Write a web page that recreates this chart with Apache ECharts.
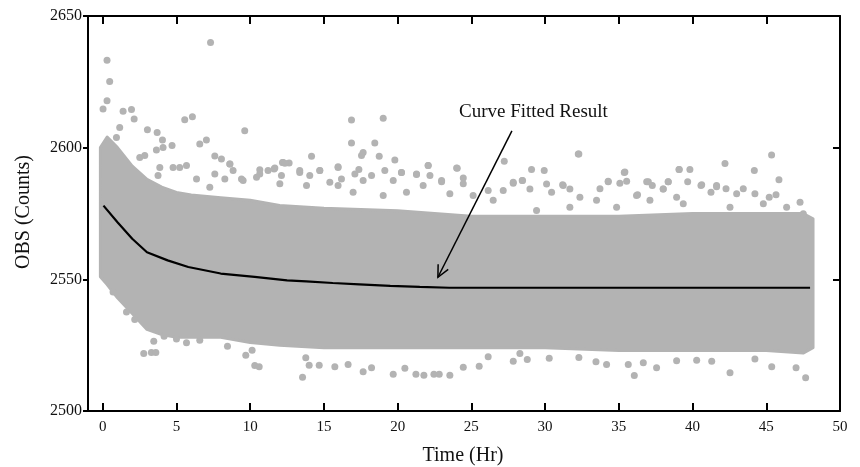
<!DOCTYPE html>
<html>
<head>
<meta charset="utf-8">
<script src="https://cdn.jsdelivr.net/npm/echarts@6/dist/echarts.min.js"></script>
<style>html,body{margin:0;padding:0;background:#fff}#c{width:860px;height:467px}</style>
</head>
<body>
<div id="c"></div>
<script>
// ---- data ----
const xTicks = [0, 5, 10, 15, 20, 25, 30, 35, 40, 45, 50];
const yTicks = [2500, 2550, 2600, 2650];

// dense cloud envelope (solid gray body of the scatter)
const bandX     = [-0.16, 0.3, 1, 2, 3, 4, 5, 6, 8, 10, 12, 15, 20, 25, 30, 35, 40, 45, 47.5, 48.17];
const bandUpper = [2600, 2604, 2600, 2593, 2588, 2585, 2583, 2582, 2581, 2580, 2578, 2577, 2576, 2574, 2574, 2574, 2575, 2575, 2575, 2573];
const bandLower = [2551, 2548, 2543, 2537, 2531, 2529, 2528, 2528, 2528, 2526, 2525, 2524, 2524, 2524, 2524, 2523, 2523, 2523, 2522, 2524];

// individual scattered points outside / on the edge of the dense body
const outX = [0.29, 0.47, 0.29, 7.31, 5.56, 6.08, 9.63, 1.95, 1.38, 2.13, 3.03, 3.69, 4.05, 4.70, 3.64, 4.09, 6.58, 7.03, 7.60, 8.05, 8.62, 8.84, 9.41, 10.65, 11.21, 11.62, 12.19, 12.64, 5.68, 4.77, 2.51, 2.85, 0.93, 1.15, 0.02,
  16.87, 19.02, 16.87, 18.45, 14.16, 17.66, 18.75, 19.81, 17.55, 15.96, 17.37, 22.07, 24.04, 27.23, 29.08, 29.94, 32.25, 14.72, 13.36, 12.23, 20.26, 21.28, 22.98, 24.45, 27.84, 28.45, 31.19,
  32.29, 45.36, 42.2, 35.41, 39.08, 39.82, 44.19, 45.86, 34.28, 37.0, 38.35, 39.67, 40.62, 42.27, 43.44, 41.63, 47.29, 36.27, 45.66, 33.72,
  2.78, 3.30, 3.60, 3.46, 8.46, 9.70, 10.13, 10.31, 10.61, 5.68, 6.58, 1.61, 0.70, 2.17, 4.16, 5.0,
  13.55, 14.0, 14.68, 15.74, 16.64, 17.66, 18.23, 19.7, 20.49, 21.24, 21.78, 22.46, 22.82, 23.54, 24.45, 25.53, 13.77, 26.14, 27.84, 28.79, 30.28, 28.29,
  36.05, 42.54, 47.67, 34.17, 35.64, 37.56, 38.92, 45.37, 47.02, 32.29, 33.45, 36.66, 40.28, 41.3, 44.23,
  3.87, 5.22, 3.75, 6.36, 7.6, 8.62, 8.28, 10.65, 10.43, 11.67, 12.35, 12.12, 13.36, 14.04, 14.72, 15.4, 15.96, 16.19, 17.1, 17.66, 18.23, 19.13, 19.7, 20.26, 21.28, 22.07, 22.19, 21.73, 22.98, 24.0, 24.45, 23.54, 15.96, 16.98, 19.02, 20.6, 25.12, 26.14, 26.48, 13.82, 12.01, 9.52, 7.26,
  27.16, 27.84, 28.47, 28.97, 30.1, 30.44, 31.23, 31.68, 32.36, 33.49, 34.28, 35.07, 35.53, 35.37, 36.89, 37.27, 38.01, 36.2, 37.11, 34.85, 31.68, 29.42,
  39.1, 38.01, 38.35, 40.57, 41.25, 41.63, 42.99, 44.23, 45.2, 38.92, 39.37, 42.54, 44.8, 46.38, 47.51];
const outY = [2633.2, 2625.1, 2617.8, 2639.9, 2610.6, 2611.7, 2606.4, 2614.5, 2613.8, 2610.9, 2606.8, 2605.8, 2602.9, 2600.8, 2599.1, 2600.1, 2601.4, 2602.9, 2596.8, 2595.7, 2593.8, 2591.3, 2588.1, 2590.0, 2591.3, 2591.9, 2594.4, 2594.2, 2593.2, 2592.5, 2596.3, 2597.0, 2603.9, 2607.7, 2614.7,
  2610.5, 2611.2, 2601.8, 2601.8, 2596.7, 2598.2, 2596.7, 2595.3, 2597.0, 2592.8, 2591.7, 2593.2, 2592.2, 2594.8, 2591.7, 2591.3, 2597.6, 2591.3, 2590.6, 2594.4, 2590.6, 2589.8, 2587.1, 2588.5, 2586.5, 2587.5, 2585.9,
  2597.6, 2597.2, 2594.0, 2590.8, 2591.7, 2591.7, 2591.3, 2587.8, 2587.1, 2587.1, 2587.1, 2587.1, 2585.9, 2584.4, 2584.4, 2585.6, 2579.3, 2582.1, 2582.1, 2584.4,
  2521.8, 2522.2, 2522.2, 2526.5, 2524.6, 2521.2, 2523.1, 2517.3, 2516.8, 2525.9, 2526.9, 2537.6, 2545.2, 2534.7, 2528.4, 2527.3,
  2512.8, 2517.4, 2517.4, 2516.8, 2517.7, 2514.9, 2516.4, 2514.0, 2516.2, 2514.0, 2513.6, 2514.0, 2514.0, 2513.6, 2516.6, 2517.0, 2520.2, 2520.6, 2518.9, 2519.6, 2520.0, 2521.8,
  2513.5, 2514.5, 2512.6, 2517.7, 2517.7, 2516.4, 2519.1, 2516.8, 2516.4, 2520.3, 2518.7, 2518.3, 2519.3, 2518.9, 2519.7,
  2592.5, 2592.5, 2589.4, 2588.1, 2590.0, 2593.8, 2588.1, 2591.6, 2588.8, 2592.3, 2594.1, 2589.4, 2591.3, 2589.4, 2591.3, 2586.9, 2592.5, 2588.1, 2590.0, 2587.5, 2589.4, 2591.3, 2587.5, 2590.6, 2590.0, 2593.2, 2589.4, 2585.6, 2587.5, 2592.3, 2586.3, 2582.5, 2585.6, 2583.1, 2581.8, 2583.1, 2581.8, 2583.7, 2580.0, 2585.6, 2586.3, 2587.5, 2585.0,
  2583.7, 2586.9, 2587.5, 2584.3, 2586.2, 2583.1, 2585.6, 2584.3, 2581.2, 2580.0, 2587.2, 2586.5, 2587.2, 2590.6, 2587.1, 2585.6, 2584.3, 2581.8, 2580.0, 2577.4, 2577.4, 2576.1,
  2591.7, 2584.3, 2587.1, 2585.6, 2583.1, 2585.2, 2582.5, 2582.5, 2581.2, 2581.2, 2578.7, 2577.4, 2578.7, 2577.4, 2574.9];

// fitted curve
const fitX = [0.05, 1, 2, 3, 4.4, 5.8, 8, 10.3, 12.5, 13.8, 15.6, 17.4, 19.5, 21.5, 23.5, 30, 40, 47.97];
const fitY = [2578, 2571.7, 2565.4, 2560.3, 2557.2, 2554.7, 2552.2, 2550.9, 2549.6, 2549.2, 2548.6, 2548.1, 2547.5, 2547.1, 2546.8, 2546.8, 2546.8, 2546.8];

// annotation arrow (start -> tip)
const annotX = [27.75, 22.73];
const annotY = [2606.4, 2550.8];
const annotText = 'Curve Fitted Result';

// ---- chart ----
const GRAY = '#b3b3b3';
const FONT = '"Liberation Serif","Times New Roman",serif';
const chart = echarts.init(document.getElementById('c'), null, {renderer: 'canvas'});

const bandData = bandX.map((x, i) => [x, bandLower[i], bandUpper[i]]);
const outData = outX.map((x, i) => [x, outY[i]]);
const fitData = fitX.map((x, i) => [x, fitY[i]]);

const axisLine = {show: true, onZero: false, lineStyle: {color: '#000', width: 2}};
const plain = v => String(v);

chart.setOption({
  animation: false,
  backgroundColor: '#fff',
  grid: {left: 88, right: 20, top: 16, bottom: 56},
  xAxis: [{
    type: 'value', min: -1, max: 50, position: 'bottom',
    axisLine: axisLine, splitLine: {show: false},
    axisTick: {show: true, inside: true, length: 8, lineStyle: {color: '#000', width: 2}, customValues: xTicks},
    axisLabel: {show: true, margin: 9, color: '#111', fontFamily: FONT, fontSize: 15, customValues: xTicks, formatter: plain}
  }, {
    type: 'value', min: -1, max: 50, position: 'top',
    axisLine: axisLine, splitLine: {show: false},
    axisTick: {show: true, inside: true, length: 8, lineStyle: {color: '#000', width: 2}, customValues: xTicks},
    axisLabel: {show: false}
  }],
  yAxis: [{
    type: 'value', min: 2500, max: 2650, interval: 50, position: 'left',
    axisLine: axisLine, splitLine: {show: false},
    axisTick: {show: true, inside: false, length: 5, lineStyle: {color: '#000', width: 2}},
    axisLabel: {show: true, margin: 6, color: '#111', fontFamily: FONT, fontSize: 16, formatter: plain}
  }, {
    type: 'value', min: 2500, max: 2650, interval: 50, position: 'right',
    axisLine: axisLine, splitLine: {show: false},
    axisTick: {show: true, inside: true, length: 7, lineStyle: {color: '#000', width: 2}},
    axisLabel: {show: false}
  }],
  graphic: [
    {type: 'text', x: 463, y: 456, style: {text: 'Time (Hr)', fontFamily: FONT, fontSize: 20, fill: '#111', align: 'center', verticalAlign: 'middle'}},
    {type: 'text', rotation: Math.PI / 2, x: 24, y: 212, style: {text: 'OBS (Counts)', fontFamily: FONT, fontSize: 20, fill: '#111', align: 'center', verticalAlign: 'middle'}},
    {type: 'text', x: 459, y: 112, style: {text: annotText, fontFamily: FONT, fontSize: 19, fill: '#111', align: 'left', verticalAlign: 'middle'}}
  ],
  series: [
    {
      type: 'custom', z: 1, silent: true,
      data: bandData,
      renderItem: function (params, api) {
        if (params.dataIndex !== 0) return null;
        const pts = [];
        for (let i = 0; i < bandData.length; i++) pts.push(api.coord([bandData[i][0], bandData[i][2]]));
        for (let i = bandData.length - 1; i >= 0; i--) pts.push(api.coord([bandData[i][0], bandData[i][1]]));
        return {type: 'polygon', shape: {points: pts}, style: {fill: GRAY, stroke: GRAY, lineWidth: 3, lineJoin: 'round'}};
      }
    },
    {
      type: 'scatter', z: 2, silent: true, symbol: 'circle', symbolSize: 7,
      itemStyle: {color: GRAY, opacity: 1},
      data: outData
    },
    {
      type: 'line', z: 3, silent: true, showSymbol: false, symbol: 'none',
      lineStyle: {color: '#000', width: 2.2},
      data: fitData
    },
    {
      type: 'custom', z: 4, silent: true,
      data: [[annotX[0], annotY[0], annotX[1], annotY[1]]],
      renderItem: function (params, api) {
        const p0 = api.coord([api.value(0), api.value(1)]);
        const p1 = api.coord([api.value(2), api.value(3)]);
        const ang = Math.atan2(p0[1] - p1[1], p0[0] - p1[0]);
        const L = 13, spread = 0.45;
        const w1 = [p1[0] + L * Math.cos(ang - spread), p1[1] + L * Math.sin(ang - spread)];
        const w2 = [p1[0] + L * Math.cos(ang + spread), p1[1] + L * Math.sin(ang + spread)];
        const st = {stroke: '#000', lineWidth: 1.5, fill: null};
        return {type: 'group', children: [
          {type: 'line', shape: {x1: p0[0], y1: p0[1], x2: p1[0], y2: p1[1]}, style: st},
          {type: 'polyline', shape: {points: [w1, p1, w2]}, style: st}
        ]};
      }
    }
  ]
});
</script>
</body>
</html>
